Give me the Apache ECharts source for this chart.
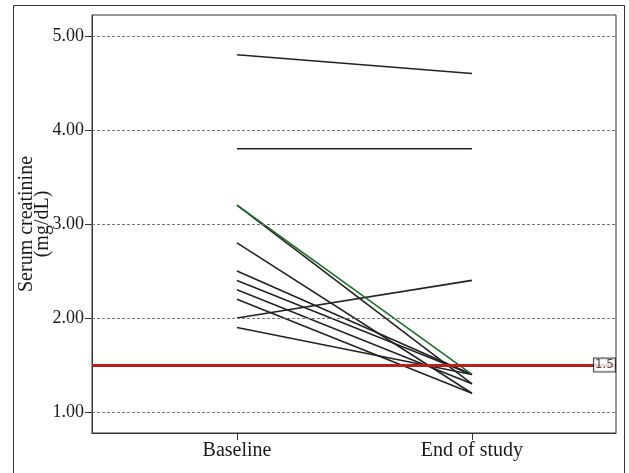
<!DOCTYPE html>
<html><head><meta charset="utf-8">
<script src="https://cdn.jsdelivr.net/npm/echarts@6/dist/echarts.min.js"></script>
<style>html,body{margin:0;padding:0;background:#fff}#c{width:629px;height:473px}</style>
</head><body><div id="c"></div>
<script>
const categories = ['Baseline', 'End of study'];
const baseline = [4.8, 3.8, 3.2, 3.2, 2.8, 2.5, 2.4, 2.3, 2.2, 2.0, 1.9];
const endOfStudy = [4.6, 3.8, 1.3, 1.4, 1.2, 1.4, 1.4, 1.3, 1.2, 2.4, 1.4];
const lineColors = ['#222','#222','#222','#1f6b2c','#222','#222','#222','#222','#222','#222','#222'];
const yTicks = [1, 2, 3, 4, 5];
const refValue = 1.5;
const yMin = 0.777, yMax = 5.223, xMin = -0.617, xMax = 1.613;

const font = 'Liberation Serif, Times New Roman, serif';
const series = baseline.map((b, i) => ({
  type: 'line', data: [[0, b], [1, endOfStudy[i]]], symbol: 'none', silent: true,
  lineStyle: { color: lineColors[i], width: 1.6 }, z: i === 3 ? 4 : 3
}));
series.push({
  type: 'line', data: [], symbol: 'none', silent: true,
  markLine: { symbol: 'none', silent: true, label: { show: false },
    lineStyle: { color: '#777', type: [3, 2], width: 1 },
    data: yTicks.map(v => ({ yAxis: v })) }, z: 1
});
series.push({
  type: 'line', data: [], symbol: 'none', silent: true,
  markLine: { symbol: 'none', silent: true, label: { show: false },
    lineStyle: { color: '#b8201c', type: 'solid', width: 3 },
    data: [{ yAxis: refValue }] }, z: 2
});
series.push({
  type: 'scatter', data: [[xMax, refValue]], symbolSize: 0, silent: true, z: 6,
  label: { show: true, position: 'left', distance: 1, formatter: String(refValue),
    fontFamily: 'DejaVu Sans, sans-serif', fontSize: 12, color: '#222',
    backgroundColor: '#fff', borderColor: '#111', borderWidth: 1, padding: [1, 1, 0, 1] }
});

const chart = echarts.init(document.getElementById('c'), null, { renderer: 'canvas' });
chart.setOption({
  animation: false,
  backgroundColor: '#fff',
  graphic: [{ type: 'rect', shape: { x: 13.5, y: 5.5, width: 611, height: 480 },
    style: { fill: 'none', stroke: '#333', lineWidth: 1 }, silent: true, z: 0 }],
  grid: { left: 92, right: 13, top: 15, bottom: 40, outerBoundsMode: 'none', containLabel: false,
    show: true, borderColor: '#333', borderWidth: 1, backgroundColor: 'transparent' },
  xAxis: {
    type: 'value', min: xMin, max: xMax,
    axisLine: { show: true, onZero: false, lineStyle: { color: '#333' } },
    axisTick: { show: true, customValues: [0, 1], length: 7, lineStyle: { color: '#333' } },
    axisLabel: { customValues: [0, 1], formatter: v => categories[Math.round(v)], fontFamily: font, fontSize: 20, color: '#1a1a1a', margin: 8 },
    splitLine: { show: false }
  },
  yAxis: {
    type: 'value', min: yMin, max: yMax,
    name: 'Serum creatinine\n(mg/dL)', nameLocation: 'middle', nameGap: 41, nameRotate: 90, nameMoveOverlap: false,
    nameTextStyle: { fontFamily: font, fontSize: 20, lineHeight: 16, color: '#1a1a1a' },
    axisLine: { show: true, onZero: false, lineStyle: { color: '#333' } },
    axisTick: { show: true, customValues: yTicks, length: 7, lineStyle: { color: '#333' } },
    axisLabel: { customValues: yTicks, formatter: v => v.toFixed(2), fontFamily: font, fontSize: 18, color: '#1a1a1a', margin: 8 },
    splitLine: { show: false }
  },
  series
});
</script></body></html>
